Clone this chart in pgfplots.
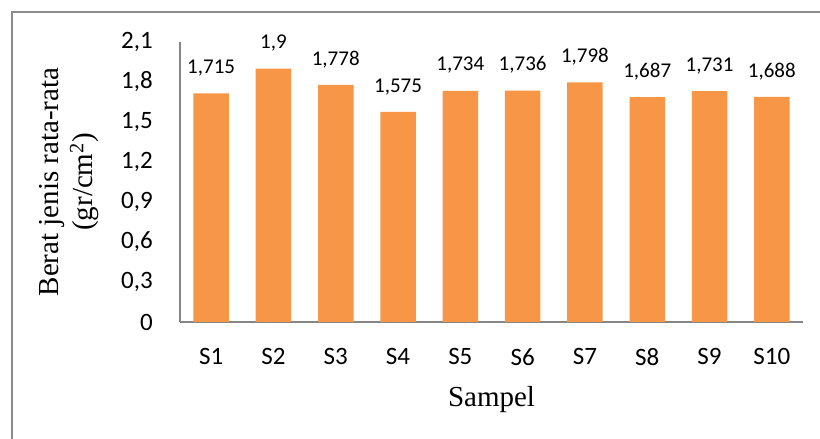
\documentclass[border=0pt]{standalone}
\usepackage{pgfplots}
\pgfplotsset{compat=1.18}
\usepackage{fontspec}
\setmainfont{Liberation Serif}
\newfontfamily\calfont{Carlito}
\definecolor{barorange}{HTML}{F79646}
\definecolor{axgray}{HTML}{868686}
\definecolor{framegray}{HTML}{8C8C8C}
\begin{document}
\begin{tikzpicture}
\begin{axis}[
  at={(180pt,117pt)}, anchor=south west,
  scale only axis, width=623pt, height=280pt,
  xmin=-0.5, xmax=9.5, ymin=0, ymax=2.1,
  axis x line*=bottom, axis y line*=left,
  axis line style={draw=axgray, line width=1.3pt},
  major tick length=0pt,
  xtick={0,...,9},
  xticklabels={S1,S2,S3,S4,S5,S6,S7,S8,S9,S10},
  ytick={0,0.3,0.6,0.9,1.2,1.5,1.8,2.1},
  /pgf/number format/assume math mode=true,
  /pgf/number format/use comma,
  yticklabel style={font=\calfont\fontsize{25}{25}\selectfont, inner sep=0pt, anchor=east, xshift=-27pt,
    /pgf/number format/fixed, /pgf/number format/precision=1},
  xticklabel style={font=\calfont\fontsize{25}{25}\selectfont, inner sep=0pt, anchor=north, yshift=-26pt},
  every axis x label/.style={at={(axis description cs:0.5,0)}, anchor=center, yshift=-78pt, font=\fontsize{29}{29}\selectfont},
  every axis y label/.style={at={(axis description cs:0,0.5)}, xshift=-111pt, rotate=90, anchor=center, align=center, font=\fontsize{29}{34}\selectfont},
  xlabel={Sampel},
  ylabel={Berat jenis rata-rata\\(gr/cm\textsuperscript{2})},
  ybar, bar width=35.5pt,
  nodes near coords={\pgfmathprintnumber[fixed, precision=3, use comma, assume math mode=true]{\pgfplotspointmeta}},
  every node near coord/.append style={font=\calfont\fontsize{21}{21}\selectfont, inner sep=0pt, anchor=south, yshift=17pt, black},
  clip=false,
]
\addplot[fill=barorange, draw=none] coordinates {
(0,1.715) (1,1.9) (2,1.778) (3,1.575) (4,1.734) (5,1.736) (6,1.798) (7,1.687) (8,1.731) (9,1.688)};
\end{axis}
\draw[framegray, line width=1.5pt] (12pt,0pt) -- (12pt,427pt) -- (820pt,427pt);
\pgfresetboundingbox
\useasboundingbox (0pt,0pt) rectangle (820pt,439pt);
\end{tikzpicture}
\end{document}
